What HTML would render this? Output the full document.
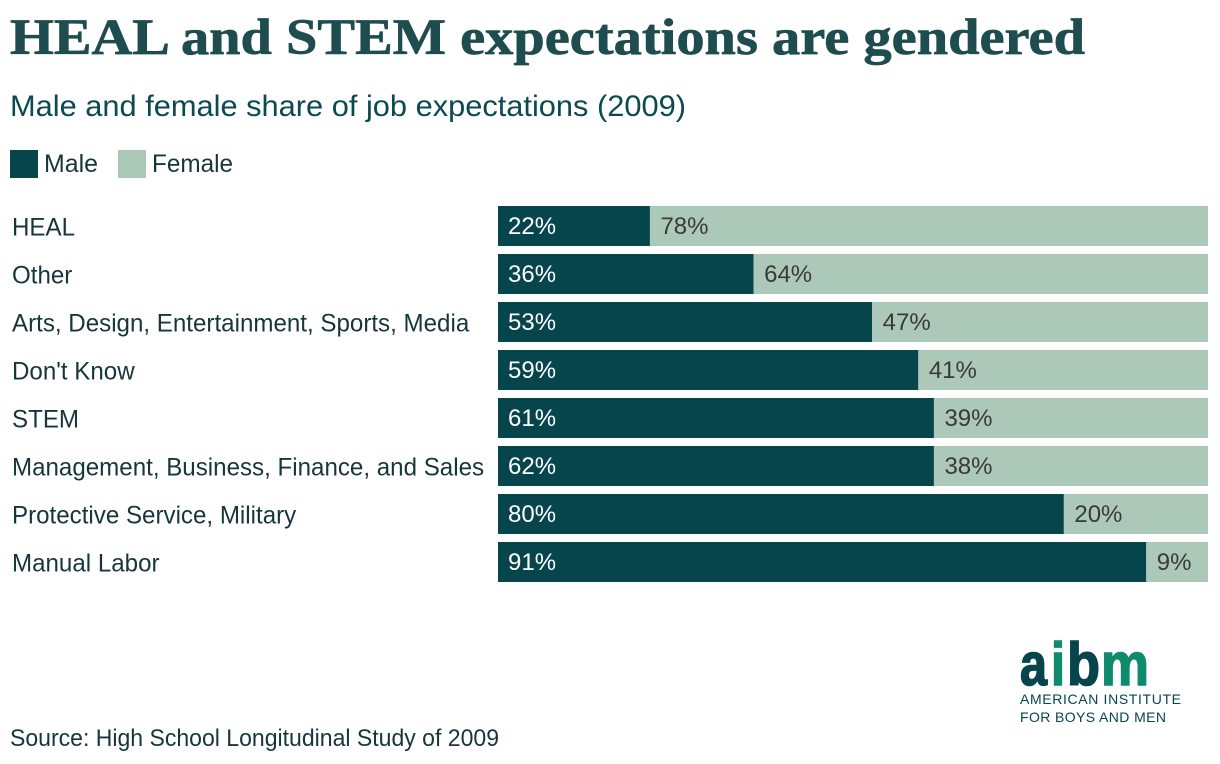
<!DOCTYPE html>
<html lang="en">
<head>
<meta charset="utf-8">
<title>HEAL and STEM expectations are gendered</title>
<style>
html,body{margin:0;padding:0;background:#fff;width:1220px;height:764px;overflow:hidden}
svg{display:block}
text{font-family:"Liberation Sans",sans-serif}
</style>
</head>
<body>
<svg id="chart" xmlns="http://www.w3.org/2000/svg" width="1220" height="764" viewBox="0 0 1220 764">
  <rect x="0" y="0" width="1220" height="764" fill="#ffffff"/>
  <text x="10" y="54" font-size="51" font-weight="700" fill="#1f4d4f" stroke="#1f4d4f" stroke-width="0.7" style="font-family:'Liberation Serif',serif" textLength="1075" lengthAdjust="spacingAndGlyphs">HEAL and STEM expectations are gendered</text>
  <text x="10" y="116" font-size="30" fill="#0a4a50" textLength="676" lengthAdjust="spacingAndGlyphs">Male and female share of job expectations (2009)</text>

  <g>
    <rect x="10" y="150" width="28" height="28" fill="#07454d"/>
    <text x="44" y="172" font-size="25" fill="#17363b" textLength="54" lengthAdjust="spacingAndGlyphs">Male</text>
    <rect x="118" y="150" width="28" height="28" fill="#acc8b9"/>
    <text x="152" y="172" font-size="25" fill="#17363b" textLength="81" lengthAdjust="spacingAndGlyphs">Female</text>
  </g>

  <g id="plot"></g>

  <text x="10" y="746" font-size="24" fill="#17363b" textLength="489" lengthAdjust="spacingAndGlyphs">Source: High School Longitudinal Study of 2009</text>

  <g font-size="60" font-weight="700" stroke-width="1.6">
    <text x="1020" y="685" fill="#07454d" stroke="#07454d" textLength="27" lengthAdjust="spacingAndGlyphs">a</text>
    <text x="1051" y="685" fill="#0e8a6c" stroke="#0e8a6c" textLength="14" lengthAdjust="spacingAndGlyphs">i</text>
    <text x="1067" y="685" fill="#07454d" stroke="#07454d" textLength="33" lengthAdjust="spacingAndGlyphs">b</text>
    <text x="1101" y="685" fill="#0e8a6c" stroke="#0e8a6c" textLength="48" lengthAdjust="spacingAndGlyphs">m</text>
  </g>
  <text x="1020" y="704" font-size="14" fill="#07454d" textLength="161" lengthAdjust="spacing">AMERICAN INSTITUTE</text>
  <text x="1020" y="722" font-size="14" fill="#07454d" textLength="146" lengthAdjust="spacing">FOR BOYS AND MEN</text>
</svg>
<script>
const categories = ["HEAL", "Other", "Arts, Design, Entertainment, Sports, Media", "Don't Know", "STEM", "Management, Business, Finance, and Sales", "Protective Service, Military", "Manual Labor"];
const maleShare = [21.4, 36, 52.7, 59.2, 61.4, 61.4, 79.7, 91.3];
const femaleShare = [78.6, 64, 47.3, 40.8, 38.6, 38.6, 20.3, 8.7];
const maleLabels = ["22%", "36%", "53%", "59%", "61%", "62%", "80%", "91%"];
const femaleLabels = ["78%", "64%", "47%", "41%", "39%", "38%", "20%", "9%"];

const SVG_NS = "http://www.w3.org/2000/svg";
const plot = document.getElementById("plot");
const plotLeft = 498, plotWidth = 710, plotTop = 206, bandStep = 48, barHeight = 40;
const labelCondense = 0.965;

function xScale(v) { return plotLeft + (v / 100) * plotWidth; }
function yBand(i) { return plotTop + i * bandStep; }
function make(tag, attrs) {
  const el = document.createElementNS(SVG_NS, tag);
  for (const k in attrs) el.setAttribute(k, attrs[k]);
  return el;
}

categories.forEach(function (cat, i) {
  const y = yBand(i);
  const slug = cat.toLowerCase().replace(/[^a-z]+/g, "-");

  const label = make("text", { x: 12, y: y + 29.5, "font-size": 25, fill: "#17363b" });
  
  
  label.textContent = cat;
  plot.appendChild(label);
  const natural = label.getComputedTextLength();
  label.setAttribute("textLength", natural * labelCondense);
  label.setAttribute("lengthAdjust", "spacingAndGlyphs");

  const xMale0 = xScale(0), xMale1 = xScale(maleShare[i]);
  const xFem1 = xScale(maleShare[i] + femaleShare[i]);

  const male = make("rect", { x: xMale0, y: y, width: xMale1 - xMale0, height: barHeight, fill: "#07454d" });
  
  
  male.setAttribute('data-category', slug);
  plot.appendChild(male);

  const female = make("rect", { x: xMale1, y: y, width: xFem1 - xMale1, height: barHeight, fill: "#acc8b9" });
  
  
  female.setAttribute('data-category', slug);
  plot.appendChild(female);

  const mv = make("text", { x: xMale0 + 10, y: y + 28, "font-size": 24, fill: "#ffffff" });
  
  
  mv.textContent = maleLabels[i];
  plot.appendChild(mv);

  const fv = make("text", { x: xMale1 + 10.5, y: y + 28, "font-size": 24, fill: "#3a3a3a" });
  
  
  fv.textContent = femaleLabels[i];
  plot.appendChild(fv);
});
</script>
</body>
</html>
